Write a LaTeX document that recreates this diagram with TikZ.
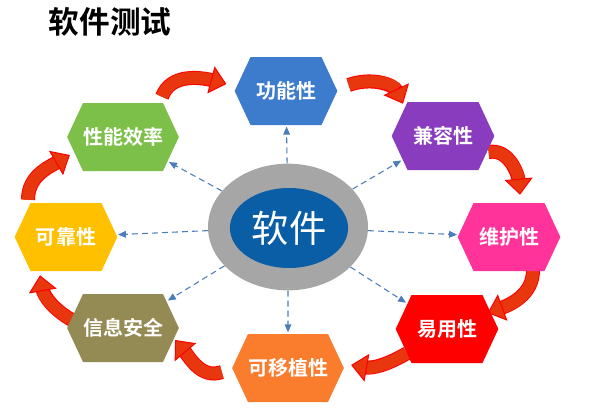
\documentclass[tikz,border=0pt]{standalone}
\usepackage{fontspec}
\newfontfamily\cjk{Noto Sans CJK SC}
\newfontfamily\cjkb{Noto Sans CJK SC Bold}
\usetikzlibrary{shapes.symbols,shapes.geometric,arrows.meta,calc,backgrounds}

\definecolor{gncol}{RGB}{61,123,205}
\definecolor{jrcol}{RGB}{137,61,190}
\definecolor{whcol}{RGB}{255,51,153}
\definecolor{yycol}{RGB}{255,0,0}
\definecolor{kycol}{RGB}{250,125,45}
\definecolor{xxcol}{RGB}{148,138,84}
\definecolor{kkcol}{RGB}{255,192,0}
\definecolor{xncol}{RGB}{124,192,74}
\definecolor{ringgray}{RGB}{166,166,166}
\definecolor{coreblue}{RGB}{10,94,166}
\definecolor{dashblue}{RGB}{74,126,187}
\definecolor{arrfill}{RGB}{232,54,14}

% curved block arrow: from, out, in, to
\newcommand\bendarrow[4]{%
  \draw[line width=10.5pt, red, shorten >=10pt] #1 to[out=#2,in=#3] #4;
  \draw[line width=9pt, arrfill,
    -{Triangle[length=12pt,width=21pt,line width=0.75pt,color=red,fill=arrfill]}]
    #1 to[out=#2,in=#3] #4;}

\begin{document}
\begin{tikzpicture}[x=0.75pt,y=0.75pt,
  hexa/.style={signal, signal to=east and west, signal pointer angle=130,
    minimum width=77pt, minimum height=51pt, inner sep=0pt, text=white,
    font=\cjkb\fontsize{15}{15}\selectfont},
  dashto/.style={-{Triangle[length=6pt,width=5pt]}, dash pattern=on 4.5pt off 3pt,
    line width=0.8pt, dashblue, shorten >=1pt}]
\useasboundingbox (0,0) rectangle (592,-407);

\node[anchor=west, font=\cjkb\fontsize{23}{23}\selectfont] (title) at (44,-22) {软件测试};

\node[ellipse, fill=ringgray, minimum width=120pt, minimum height=95pt] (sw) at (288,-227) {};
\node[ellipse, fill=coreblue, minimum width=87pt, minimum height=60pt, text=white,
  font=\cjk\fontsize{28}{28}\selectfont] (core) at (289,-228) {软件};

\node[hexa, fill=gncol] (gn) at (286,-91)  {功能性};
\node[hexa, fill=jrcol] (jr) at (443,-136) {兼容性};
\node[hexa, fill=whcol] (wh) at (509,-237) {维护性};
\node[hexa, fill=yycol] (yy) at (447,-329) {易用性};
\node[hexa, fill=kycol] (ky) at (288,-368) {可移植性};
\node[hexa, fill=xxcol] (xx) at (123,-328) {信息安全};
\node[hexa, fill=kkcol] (kk) at (66,-237)  {可靠性};
\node[hexa, fill=xncol] (xn) at (123,-137) {性能效率};

\path[dashto]
  (sw) edge (gn) edge (jr) edge (wh) edge (yy)
       edge (ky) edge (xx) edge (kk) edge (xn);

\begin{pgfonlayer}{background}
\bendarrow{($(xn.north)+(39,6)$)}{70}{165}{($(gn.west)+(-8,7)$)}
\bendarrow{($(gn.east)+(11,6)$)}{20}{115}{($(jr.north)+(-40,-2)$)}
\bendarrow{($(jr.east)+(-6,-16)$)}{10}{95}{($(wh.north)+(11,8)$)}
\bendarrow{($(wh.south)+(24,1)$)}{-90}{20}{($(yy.east)+(-11,16)$)}
\bendarrow{($(yy.south)+(-40,10)$)}{-150}{-10}{($(ky.east)+(7,3)$)}
\bendarrow{($(ky.west)+(-10,-4)$)}{200}{-50}{($(xx.east)+(-4,-12)$)}
\bendarrow{($(xx.west)+(5,8)$)}{150}{-80}{($(kk.south)+(-26,-4)$)}
\bendarrow{($(kk.north)+(-38,3)$)}{90}{210}{($(xn.west)+(3,-18)$)}
\end{pgfonlayer}
\end{tikzpicture}
\end{document}
